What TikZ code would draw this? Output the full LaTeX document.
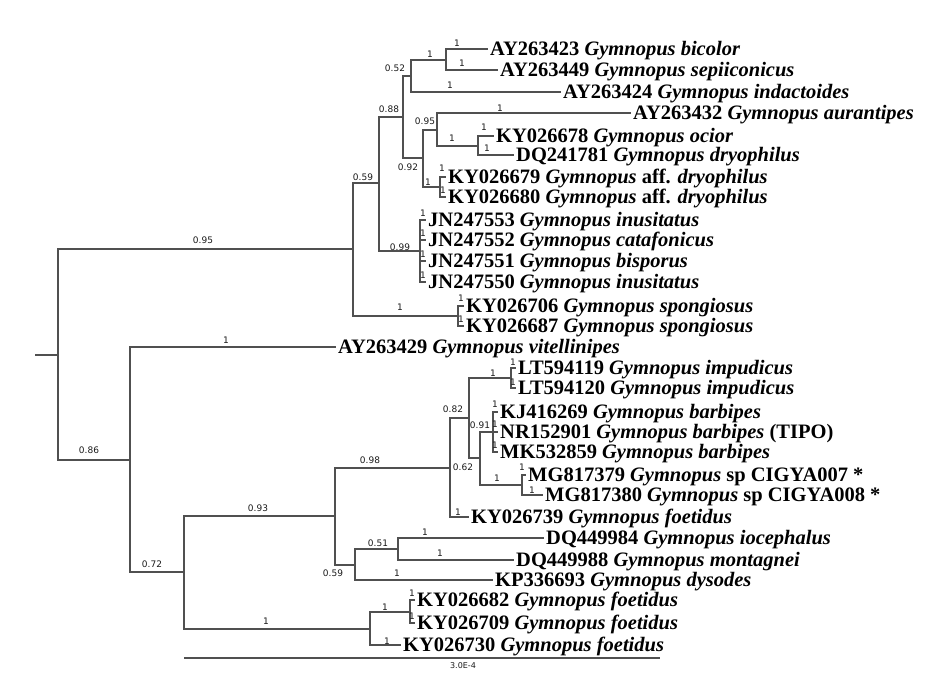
\documentclass[tikz,border=0pt]{standalone}
\usepackage{fontspec}
\setmainfont{Liberation Serif}
\newfontfamily\supfont{DejaVu Sans}
\definecolor{branchc}{HTML}{505050}
\definecolor{labc}{HTML}{1a1a1a}
\tikzset{
  br/.style={draw=branchc, line width=1.8pt, line cap=rect},
  leaf/.style={anchor=base west, inner sep=0pt, xshift=3pt, yshift=-6.8pt,
    font=\fontsize{20.5}{20.5}\selectfont\bfseries, text=black},
  sup/.style={inner sep=0pt, font=\supfont\fontsize{9}{9}\selectfont, text=labc},
}
\newcommand\gy[1]{\textit{Gymnopus #1}}
\begin{document}
\begin{tikzpicture}[x=1pt,y=-1pt]
\useasboundingbox (0,0) rectangle (947,677);
% internal nodes
\coordinate (stub) at (36,355);
\coordinate (r) at (58,355);
\coordinate (A) at (353,249);
\coordinate (B) at (130,460);
\coordinate (C) at (379,183);
\coordinate (D) at (458,316);
\coordinate (E) at (403,117);
\coordinate (F) at (420,251);
\coordinate (G) at (411,76);
\coordinate (H) at (423,158);
\coordinate (I) at (446,60);
\coordinate (J) at (437,130);
\coordinate (K) at (440,187);
\coordinate (L) at (478,146);
\coordinate (M) at (184,572);
\coordinate (N) at (335,516);
\coordinate (O) at (370,629);
\coordinate (P) at (450,468);
\coordinate (Q) at (355,565);
\coordinate (R) at (469,418);
\coordinate (S) at (511,378);
\coordinate (T) at (480,458);
\coordinate (U) at (493,432);
\coordinate (V) at (522,485);
\coordinate (W) at (398,549);
\coordinate (X) at (410,612);
% leaf tips
\coordinate (l1) at (487,49);
\coordinate (l2) at (497,70);
\coordinate (l3) at (560,92);
\coordinate (l4) at (630,113);
\coordinate (l5) at (493,136);
\coordinate (l6) at (513,155);
\coordinate (l7) at (445,177);
\coordinate (l8) at (445,197);
\coordinate (l9) at (425,220);
\coordinate (l10) at (425,240);
\coordinate (l11) at (425,261);
\coordinate (l12) at (425,282);
\coordinate (l13) at (463,306);
\coordinate (l14) at (463,326);
\coordinate (l15) at (335,347);
\coordinate (l16) at (515,368);
\coordinate (l17) at (515,388);
\coordinate (l18) at (497,412);
\coordinate (l19) at (497,432);
\coordinate (l20) at (497,452);
\coordinate (l21) at (525,475);
\coordinate (l22) at (542,495);
\coordinate (l23) at (468,517);
\coordinate (l24) at (543,538);
\coordinate (l25) at (513,560);
\coordinate (l26) at (492,580);
\coordinate (l27) at (414,600);
\coordinate (l28) at (414,623);
\coordinate (l29) at (400,645);
% branches
\draw[br] (stub) -- (r);
\draw[br] (r) |- (A);
\draw[br] (r) |- (B);
\draw[br] (A) |- (C);
\draw[br] (A) |- (D);
\draw[br] (C) |- (E);
\draw[br] (C) |- (F);
\draw[br] (E) |- (G);
\draw[br] (E) |- (H);
\draw[br] (G) |- (I);
\draw[br] (G) |- (l3);
\draw[br] (I) |- (l1);
\draw[br] (I) |- (l2);
\draw[br] (H) |- (J);
\draw[br] (H) |- (K);
\draw[br] (J) |- (l4);
\draw[br] (J) |- (L);
\draw[br] (L) |- (l5);
\draw[br] (L) |- (l6);
\draw[br] (K) |- (l7);
\draw[br] (K) |- (l8);
\draw[br] (F) |- (l9);
\draw[br] (F) |- (l10);
\draw[br] (F) |- (l11);
\draw[br] (F) |- (l12);
\draw[br] (D) |- (l13);
\draw[br] (D) |- (l14);
\draw[br] (B) |- (l15);
\draw[br] (B) |- (M);
\draw[br] (M) |- (N);
\draw[br] (M) |- (O);
\draw[br] (N) |- (P);
\draw[br] (N) |- (Q);
\draw[br] (P) |- (R);
\draw[br] (P) |- (l23);
\draw[br] (R) |- (S);
\draw[br] (R) |- (T);
\draw[br] (S) |- (l16);
\draw[br] (S) |- (l17);
\draw[br] (T) |- (U);
\draw[br] (T) |- (V);
\draw[br] (U) |- (l18);
\draw[br] (U) |- (l19);
\draw[br] (U) |- (l20);
\draw[br] (V) |- (l21);
\draw[br] (V) |- (l22);
\draw[br] (Q) |- (W);
\draw[br] (Q) |- (l26);
\draw[br] (W) |- (l24);
\draw[br] (W) |- (l25);
\draw[br] (O) |- (X);
\draw[br] (O) |- (l29);
\draw[br] (X) |- (l27);
\draw[br] (X) |- (l28);
% leaf labels
\node[leaf] (t1) at (l1) {AY263423 \gy{bicolor}};
\node[leaf] (t2) at (l2) {AY263449 \gy{sepiiconicus}};
\node[leaf] (t3) at (l3) {AY263424 \gy{indactoides}};
\node[leaf] (t4) at (l4) {AY263432 \gy{aurantipes}};
\node[leaf] (t5) at (l5) {KY026678 \gy{ocior}};
\node[leaf] (t6) at (l6) {DQ241781 \gy{dryophilus}};
\node[leaf] (t7) at (l7) {KY026679 \textit{Gymnopus} aff. \textit{dryophilus}};
\node[leaf] (t8) at (l8) {KY026680 \textit{Gymnopus} aff. \textit{dryophilus}};
\node[leaf] (t9) at (l9) {JN247553 \gy{inusitatus}};
\node[leaf] (t10) at (l10) {JN247552 \gy{catafonicus}};
\node[leaf] (t11) at (l11) {JN247551 \gy{bisporus}};
\node[leaf] (t12) at (l12) {JN247550 \gy{inusitatus}};
\node[leaf] (t13) at (l13) {KY026706 \gy{spongiosus}};
\node[leaf] (t14) at (l14) {KY026687 \gy{spongiosus}};
\node[leaf] (t15) at (l15) {AY263429 \gy{vitellinipes}};
\node[leaf] (t16) at (l16) {LT594119 \gy{impudicus}};
\node[leaf] (t17) at (l17) {LT594120 \gy{impudicus}};
\node[leaf] (t18) at (l18) {KJ416269 \gy{barbipes}};
\node[leaf] (t19) at (l19) {NR152901 \gy{barbipes} (TIPO)};
\node[leaf] (t20) at (l20) {MK532859 \gy{barbipes}};
\node[leaf] (t21) at (l21) {MG817379 \textit{Gymnopus} sp CIGYA007 *};
\node[leaf] (t22) at (l22) {MG817380 \textit{Gymnopus} sp CIGYA008 *};
\node[leaf] (t23) at (l23) {KY026739 \gy{foetidus}};
\node[leaf] (t24) at (l24) {DQ449984 \gy{iocephalus}};
\node[leaf] (t25) at (l25) {DQ449988 \gy{montagnei}};
\node[leaf] (t26) at (l26) {KP336693 \gy{dysodes}};
\node[leaf] (t27) at (l27) {KY026682 \gy{foetidus}};
\node[leaf] (t28) at (l28) {KY026709 \gy{foetidus}};
\node[leaf] (t29) at (l29) {KY026730 \gy{foetidus}};
% support values
\node[sup] (s1) at (203,240) {0.95};
\node[sup] (s2) at (89,450) {0.86};
\node[sup] (s3) at (226,340) {1};
\node[sup] (s4) at (152,564) {0.72};
\node[sup] (s5) at (258,508) {0.93};
\node[sup] (s6) at (266,621) {1};
\node[sup] (s7) at (363,177) {0.59};
\node[sup] (s8) at (400,307) {1};
\node[sup] (s9) at (389,109) {0.88};
\node[sup] (s10) at (400,247) {0.99};
\node[sup] (s11) at (395,68) {0.52};
\node[sup] (s12) at (430,54) {1};
\node[sup] (s13) at (457,43) {1};
\node[sup] (s14) at (462,63) {1};
\node[sup] (s15) at (450,85) {1};
\node[sup] (s16) at (408,167) {0.92};
\node[sup] (s17) at (425,121) {0.95};
\node[sup] (s18) at (500,108) {1};
\node[sup] (s19) at (452,138) {1};
\node[sup] (s20) at (484,127) {1};
\node[sup] (s21) at (487,148) {1};
\node[sup] (s22) at (428,182) {1};
\node[sup] (s23) at (442,168) {1};
\node[sup] (s24) at (443,190) {1};
\node[sup] (s25) at (423,213) {1};
\node[sup] (s26) at (423,233) {1};
\node[sup] (s27) at (423,254) {1};
\node[sup] (s28) at (423,275) {1};
\node[sup] (s29) at (461,298) {1};
\node[sup] (s30) at (461,319) {1};
\node[sup] (s31) at (370,460) {0.98};
\node[sup] (s32) at (333,573) {0.59};
\node[sup] (s33) at (378,543) {0.51};
\node[sup] (s34) at (397,573) {1};
\node[sup] (s35) at (425,532) {1};
\node[sup] (s36) at (440,553) {1};
\node[sup] (s37) at (385,607) {1};
\node[sup] (s38) at (387,641) {1};
\node[sup] (s39) at (412,593) {1};
\node[sup] (s40) at (412,616) {1};
\node[sup] (s41) at (453,409) {0.82};
\node[sup] (s42) at (493,373) {1};
\node[sup] (s43) at (513,362) {1};
\node[sup] (s44) at (513,382) {1};
\node[sup] (s45) at (463,467) {0.62};
\node[sup] (s46) at (480,425) {0.91};
\node[sup] (s47) at (495,404) {1};
\node[sup] (s48) at (495,424) {1};
\node[sup] (s49) at (495,445) {1};
\node[sup] (s50) at (497,478) {1};
\node[sup] (s51) at (522,467) {1};
\node[sup] (s52) at (532,490) {1};
\node[sup] (s53) at (458,512) {1};
% scale bar
\coordinate (sb1) at (184,658);
\coordinate (sb2) at (660,658);
\draw[draw=branchc, line width=1.3pt] (sb1) -- (sb2);
\node[sup, font=\supfont\fontsize{8}{8}\selectfont] (sbl) at (463,666) {3.0E-4};
\end{tikzpicture}
\end{document}
